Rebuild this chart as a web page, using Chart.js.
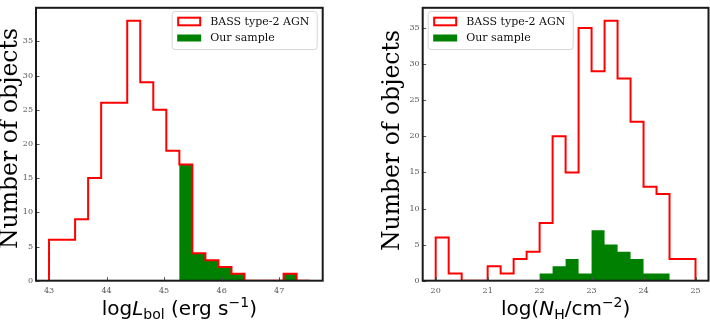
<!DOCTYPE html>
<html><head><meta charset="utf-8">
<script src="https://cdn.jsdelivr.net/npm/chart.js@4.4.1/dist/chart.umd.min.js"></script>
<style>
html,body{margin:0;padding:0;background:#fff;}
#wrap{position:relative;width:710px;height:324px;overflow:hidden;background:#fff;}
.c{position:absolute;top:0;width:355px;height:324px;}
</style></head><body>
<div id="wrap">
<div class="c" style="left:0"><canvas id="c1" width="355" height="324"></canvas></div>
<div class="c" style="left:355px"><canvas id="c2" width="355" height="324"></canvas></div>
</div>
<script>
// ---- data ----
const lbolRange = [43.0, 47.53];           // histogram bin range (20 bins)
const lbolAllCounts    = [6,6,9,15,26,26,38,29,25,19,17,4,3,2,1,0,0,0,1,0];
const lbolSampleCounts = [0,0,0,0,0,0,0,0,0,0,17,4,3,2,1,0,0,0,1,0];
const lbolTicks = [43,44,45,46,47];

const nhRange = [20.0, 25.0];               // histogram bin range (20 bins)
const nhAllCounts    = [6,1,0,0,2,1,3,4,8,20,15,35,29,36,28,22,13,12,3,3];
const nhSampleCounts = [0,0,0,0,0,0,0,0,1,2,3,1,7,5,4,3,1,1,0,0];
const nhTicks = [20,21,22,23,24,25];

const countTicks = [0,5,10,15,20,25,30,35];
const seriesLabels = ['BASS type-2 AGN', 'Our sample'];
const yTitle = 'Number of objects';

// ---- helpers ----
function stepPoints(range, counts) {
  const n = counts.length, w = (range[1] - range[0]) / n;
  const pts = [{x: range[0], y: 0}];
  counts.forEach((c, i) => pts.push({x: range[0] + i * w, y: c}));
  pts.push({x: range[1], y: counts[n - 1]});
  pts.push({x: range[1], y: 0});
  return pts;
}

const RED = '#ff0000', GREEN = '#008000';
const TICK_FONT = {family: 'DejaVu Serif', size: 8};
const TICK_COLOR = '#555';

const decorPlugin = {
  id: 'decor',
  afterDatasetsDraw(chart) {
    const ctx = chart.ctx, a = chart.chartArea;
    const xs = chart.scales.x, ys = chart.scales.y;
    ctx.save();
    // inward ticks
    ctx.strokeStyle = '#555'; ctx.lineWidth = 1;
    xs.ticks.forEach(t => {
      const px = Math.round(xs.getPixelForValue(t.value)) + 0.5;
      ctx.beginPath(); ctx.moveTo(px, a.bottom); ctx.lineTo(px, a.bottom - 3.5); ctx.stroke();
    });
    ys.ticks.forEach(t => {
      const py = Math.round(ys.getPixelForValue(t.value)) + 0.5;
      ctx.beginPath(); ctx.moveTo(a.left, py); ctx.lineTo(a.left + 3.5, py); ctx.stroke();
    });
    // frame
    ctx.strokeStyle = '#1a1a1a'; ctx.lineWidth = 2;
    ctx.strokeRect(a.left, a.top, a.right - a.left, a.bottom - a.top);
    // legend
    const cfg = chart.options.plugins.decor;
    const bw = 145, bh = 38;
    const bx = cfg.legendLoc === 'right' ? a.right - 5.5 - bw : a.left + 5.5;
    const by = a.top + 3.7;
    ctx.beginPath();
    if (ctx.roundRect) ctx.roundRect(bx, by, bw, bh, 3); else ctx.rect(bx, by, bw, bh);
    ctx.fillStyle = 'rgba(255,255,255,0.8)'; ctx.fill();
    ctx.strokeStyle = '#d6d6d6'; ctx.lineWidth = 1; ctx.stroke();
    const ds = chart.data.datasets;
    const rows = [by + 10, by + 26.5];
    ctx.font = '11px "DejaVu Serif"'; ctx.textBaseline = 'middle'; ctx.textAlign = 'left';
    ds.forEach((d, i) => {
      const cy = rows[i];
      if (d.fill) {
        ctx.fillStyle = d.backgroundColor;
        ctx.fillRect(bx + 5, cy - 3.5, 24, 7);
      } else {
        ctx.strokeStyle = d.borderColor; ctx.lineWidth = 2;
        ctx.fillStyle = '#fff';
        ctx.fillRect(bx + 6, cy - 3.8, 22, 7.6);
        ctx.strokeRect(bx + 6, cy - 3.8, 22, 7.6);
      }
      ctx.fillStyle = '#111';
      ctx.fillText(d.label, bx + 38, cy + 0.5);
    });
    ctx.restore();
  },
  afterDraw(chart) {
    const ctx = chart.ctx, a = chart.chartArea;
    const cfg = chart.options.plugins.decor;
    ctx.save();
    // y title
    ctx.fillStyle = '#000';
    ctx.font = cfg.yTitleSize + 'px "DejaVu Serif"';
    ctx.textAlign = 'center'; ctx.textBaseline = 'alphabetic';
    ctx.translate(cfg.yTitleX, cfg.yTitleY);
    ctx.rotate(-Math.PI / 2);
    ctx.fillText(yTitle, 0, 0);
    ctx.restore();
    // x title (mathtext-like pieces)
    ctx.save();
    ctx.fillStyle = '#000'; ctx.textBaseline = 'alphabetic'; ctx.textAlign = 'left';
    const parts = cfg.xTitle;
    let total = 0;
    parts.forEach(p => { ctx.font = p.font; p.w = ctx.measureText(p.t).width; total += p.w; });
    let x = (a.left + a.right) / 2 - total / 2;
    const base = cfg.xTitleY;
    parts.forEach(p => { ctx.font = p.font; ctx.fillText(p.t, x, base + (p.dy || 0)); x += p.w; });
    ctx.restore();
  }
};

const F = '20px "DejaVu Sans"', FI = 'italic 20px "DejaVu Sans"', FS = '14px "DejaVu Sans"';

function makeChart(id, range, allCounts, sampleCounts, xTicks, opts) {
  const pad = 0.05 * (range[1] - range[0]);
  const ymax = 1.05 * Math.max(...allCounts);
  return new Chart(document.getElementById(id), {
    type: 'line',
    data: {
      datasets: [
        {label: seriesLabels[0], data: stepPoints(range, allCounts), stepped: 'before',
         borderColor: RED, borderWidth: 2, pointRadius: 0, fill: false, order: 0},
        {label: seriesLabels[1], data: stepPoints(range, sampleCounts), stepped: 'before',
         borderColor: 'rgba(0,0,0,0)', borderWidth: 1, backgroundColor: GREEN,
         pointRadius: 0, fill: 'origin', order: 1}
      ]
    },
    options: {
      responsive: false, animation: false, devicePixelRatio: 1,
      layout: {padding: {left: 0, right: opts.padRight, top: 3.3, bottom: 0}},
      plugins: {legend: {display: false}, tooltip: {enabled: false},
        decor: {legendLoc: opts.legendLoc, yTitleX: opts.yTitleX, yTitleY: opts.yTitleY, yTitleSize: 23.5,
                xTitle: opts.xTitle, xTitleY: 315}},
      scales: {
        x: {type: 'linear', min: range[0] - pad, max: range[1] + pad,
            afterFit: s => { s.height = 43.3; },
            afterBuildTicks: s => { s.ticks = xTicks.map(v => ({value: v})); },
            ticks: {font: TICK_FONT, color: TICK_COLOR, padding: 5, maxRotation: 0, autoSkip: false},
            grid: {drawOnChartArea: false, drawTicks: false}, border: {display: false}},
        y: {type: 'linear', min: 0, max: ymax,
            afterFit: s => { s.width = opts.yWidth; },
            afterBuildTicks: s => { s.ticks = countTicks.map(v => ({value: v})); },
            ticks: {font: TICK_FONT, color: TICK_COLOR, padding: 3, autoSkip: false},
            grid: {drawOnChartArea: false, drawTicks: false}, border: {display: false}}
      }
    },
    plugins: [decorPlugin]
  });
}

makeChart('c1', lbolRange, lbolAllCounts, lbolSampleCounts, lbolTicks, {
  padRight: 32.3, yWidth: 36, legendLoc: 'right', yTitleX: 16.5, yTitleY: 138.5,
  xTitle: [{t: 'log', font: F}, {t: 'L', font: FI}, {t: 'bol', font: FS, dy: 4},
           {t: ' (erg s', font: F}, {t: '\u22121', font: FS, dy: -8}, {t: ')', font: F}]
});
makeChart('c2', nhRange, nhAllCounts, nhSampleCounts, nhTicks, {
  padRight: 1.5, yWidth: 67.7, legendLoc: 'left', yTitleX: 43.5, yTitleY: 140.5,
  xTitle: [{t: 'log(', font: F}, {t: 'N', font: FI}, {t: 'H', font: FS, dy: 4},
           {t: '/cm', font: F}, {t: '\u22122', font: FS, dy: -8}, {t: ')', font: F}]
});
</script>
</body></html>
